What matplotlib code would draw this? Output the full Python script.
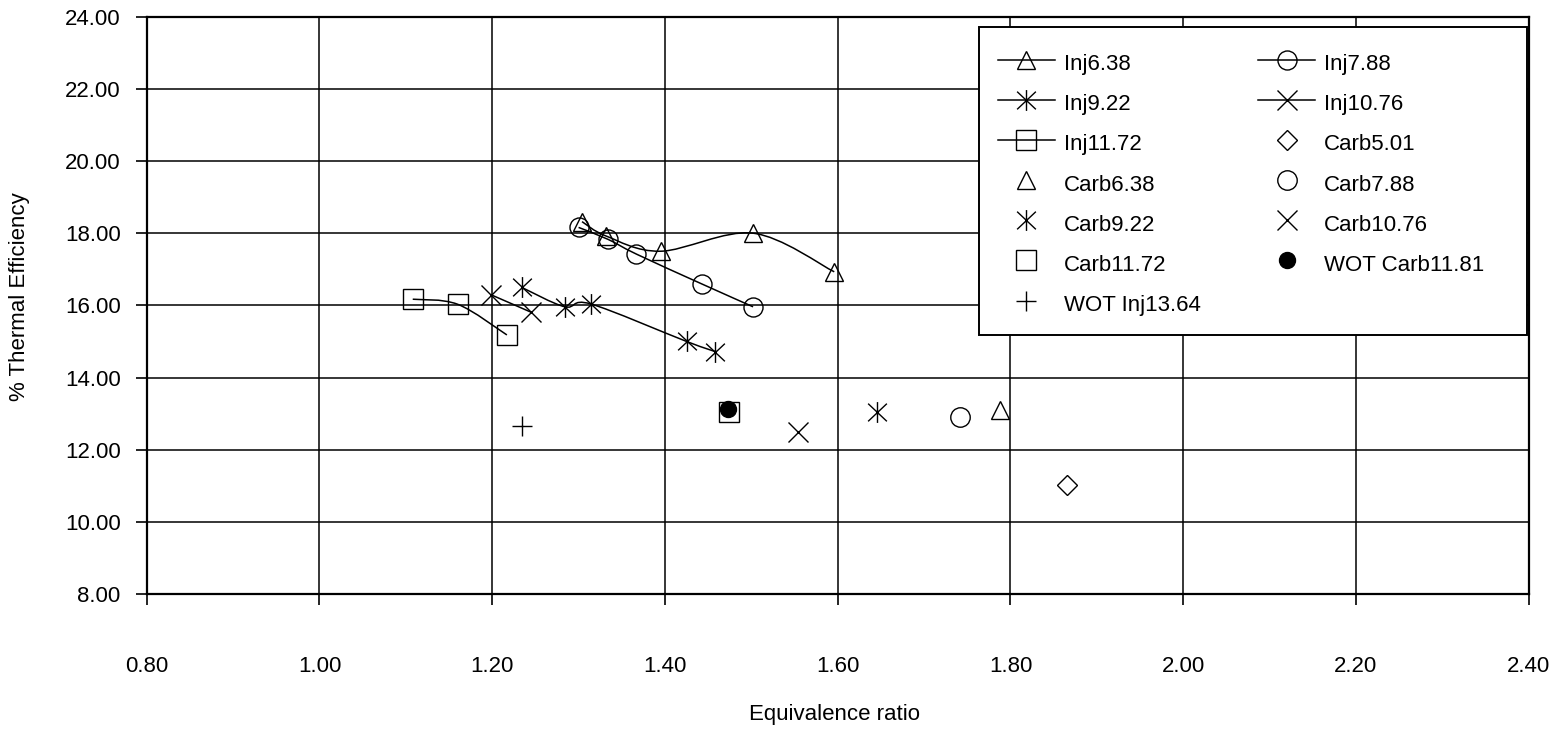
# Thermal efficiency vs equivalence ratio, injection and carburettor runs
import numpy as np
import matplotlib
matplotlib.use('Agg')
import matplotlib.pyplot as plt
from matplotlib.path import Path
from matplotlib.patches import PathPatch, Rectangle
from matplotlib.lines import Line2D

plt.rcParams['font.family'] = ['Liberation Sans', 'DejaVu Sans']

# data
inj638_x = [1.304, 1.332, 1.395, 1.502, 1.596]
inj638_y = [18.32, 17.92, 17.50, 18.00, 16.93]
inj788_x = [1.300, 1.334, 1.367, 1.443, 1.502]
inj788_y = [18.16, 17.83, 17.42, 16.59, 15.96]
inj922_x = [1.234, 1.284, 1.314, 1.425, 1.458]
inj922_y = [16.50, 15.96, 16.04, 15.00, 14.72]
inj1076_x = [1.199, 1.245]
inj1076_y = [16.29, 15.81]
inj1172_x = [1.108, 1.160, 1.217]
inj1172_y = [16.17, 16.03, 15.18]

carb501 = (1.866, 11.01)
carb638 = (1.788, 13.10)
carb788 = (1.742, 12.91)
carb922 = (1.646, 13.04)
carb1076 = (1.554, 12.50)
carb1172 = (1.474, 13.04)
wot_carb1181 = (1.473, 13.12)
wot_inj1364 = (1.234, 12.66)

x_ticks = [0.80, 1.00, 1.20, 1.40, 1.60, 1.80, 2.00, 2.20, 2.40]
y_ticks = [8, 10, 12, 14, 16, 18, 20, 22, 24]

FS = 16
LW = 1.1
MEW = 1.0

# six-armed star like the spreadsheet marker
star = Path([(-0.9, -0.85), (0.9, 0.85), (-0.9, 0.85), (0.9, -0.85), (0, -1), (0, 1)],
            [Path.MOVETO, Path.LINETO, Path.MOVETO, Path.LINETO, Path.MOVETO, Path.LINETO])


def smooth_path(xs, ys):
    # Catmull-Rom style bezier segments through the data points
    pts = np.column_stack([xs, ys]).astype(float)
    n = len(pts)
    verts = [pts[0]]
    codes = [Path.MOVETO]
    for i in range(n - 1):
        p0 = pts[i - 1] if i > 0 else pts[i]
        p1 = pts[i]
        p2 = pts[i + 1]
        p3 = pts[i + 2] if i + 2 < n else pts[i + 1]
        verts += [p1 + (p2 - p0) / 6, p2 - (p3 - p1) / 6, p2]
        codes += [Path.CURVE4] * 3
    return Path(verts, codes)


fig = plt.figure(figsize=(15.6, 7.32), dpi=100)
ax = fig.add_axes([146.7 / 1560, 1 - 594 / 732, 1382 / 1560, 577.3 / 732])

# marker styles per series
styles = {
    'Inj6.38': dict(marker='^', ms=13.3),
    'Inj7.88': dict(marker='o', ms=13.7),
    'Inj9.22': dict(marker=star, ms=15),
    'Inj10.76': dict(marker='x', ms=14.4),
    'Inj11.72': dict(marker='s', ms=13.7),
    'Carb5.01': dict(marker='D', ms=9.7),
    'Carb6.38': dict(marker='^', ms=13.3),
    'Carb7.88': dict(marker='o', ms=14),
    'Carb9.22': dict(marker=star, ms=15),
    'Carb10.76': dict(marker='x', ms=14.4),
    'Carb11.72': dict(marker='s', ms=13.7),
    'WOT Carb11.81': dict(marker='o', ms=11.5, mfc='black'),
    'WOT Inj13.64': dict(marker='+', ms=15),
}

line_series = {
    'Inj6.38': (inj638_x, inj638_y),
    'Inj7.88': (inj788_x, inj788_y),
    'Inj9.22': (inj922_x, inj922_y),
    'Inj10.76': (inj1076_x, inj1076_y),
    'Inj11.72': (inj1172_x, inj1172_y),
}
point_series = {
    'Carb5.01': carb501,
    'Carb6.38': carb638,
    'Carb7.88': carb788,
    'Carb9.22': carb922,
    'Carb10.76': carb1076,
    'Carb11.72': carb1172,
    'WOT Carb11.81': wot_carb1181,
    'WOT Inj13.64': wot_inj1364,
}

handles = {}
for name, (xs, ys) in line_series.items():
    st = dict(styles[name])
    ax.add_patch(PathPatch(smooth_path(xs, ys), fill=False, edgecolor='black', lw=LW, zorder=3))
    ax.plot(xs, ys, linestyle='none', color='black', mfc=st.pop('mfc', 'none'),
            mew=MEW, zorder=4, **st)
    st = dict(styles[name])
    handles[name] = Line2D([], [], color='black', lw=LW, mfc=st.pop('mfc', 'none'), mew=MEW, **st)

for name, (px, py) in point_series.items():
    st = dict(styles[name])
    ax.plot([px], [py], linestyle='none', color='black', mfc=st.pop('mfc', 'none'),
            mew=MEW, zorder=4, **st)
    st = dict(styles[name])
    handles[name] = Line2D([], [], color='black', linestyle='none', mfc=st.pop('mfc', 'none'), mew=MEW, **st)

# axes, grid and ticks
ax.set_xlim(0.80, 2.40)
ax.set_ylim(8, 24)
ax.set_xticks(x_ticks)
ax.set_yticks(y_ticks)
ax.set_xticklabels(['%.2f' % v for v in x_ticks])
ax.set_yticklabels(['%.2f' % v for v in y_ticks])
ax.grid(True, color='black', lw=1.1)
ax.set_axisbelow(True)
for sp in ax.spines.values():
    sp.set_linewidth(1.6)
ax.tick_params(axis='both', direction='out', length=7.7, width=1.2, labelsize=FS, colors='black')
ax.tick_params(axis='x', pad=37)
ax.tick_params(axis='y', pad=11)

ax.set_xlabel('Equivalence ratio', fontsize=FS, va='center')
ax.set_ylabel('% Thermal Efficiency', fontsize=FS, va='center')
ax.xaxis.set_label_coords(0.498, -0.208)
ax.yaxis.set_label_coords(-0.0917, 0.515)

# legend box (wider on the right than the legend's own padding)
leg_box = Rectangle((0.6023, 0.4486), 0.9988 - 0.6023, 0.9816 - 0.4486, transform=ax.transAxes,
                    facecolor='white', edgecolor='black', lw=1.4, zorder=5)
ax.add_patch(leg_box)

# legend, two columns filled column by column
col1 = ['Inj6.38', 'Inj9.22', 'Inj11.72', 'Carb6.38', 'Carb9.22', 'Carb11.72', 'WOT Inj13.64']
col2 = ['Inj7.88', 'Inj10.76', 'Carb5.01', 'Carb7.88', 'Carb10.76', 'WOT Carb11.81']
order = col1 + col2
leg = ax.legend([handles[n] for n in order], order, loc='upper left',
                bbox_to_anchor=(0.6023, 0.9769), borderaxespad=0, ncol=2,
                fontsize=FS, handlelength=2.55, handletextpad=0.4, handleheight=1.55,
                labelspacing=0.555, borderpad=0.85, columnspacing=2.6,
                frameon=False)
leg.set_zorder(6)

fig.savefig('out.png', dpi=100)
